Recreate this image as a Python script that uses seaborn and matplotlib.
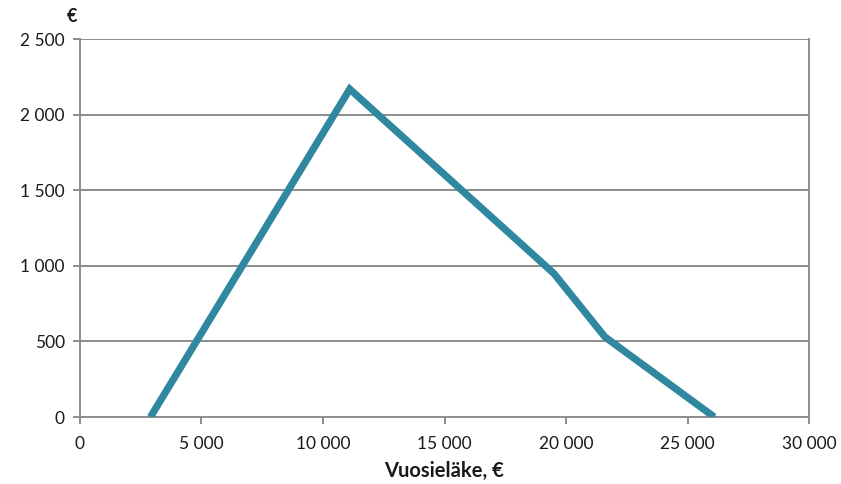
import matplotlib
matplotlib.use("Agg")
import matplotlib.pyplot as plt
import matplotlib.ticker as mticker
import seaborn as sns
import pandas as pd

# Annual pension (€) and the corresponding amount (€)
pension = [2900, 11100, 19500, 21600, 26100]
amount = [0, 2170, 950, 530, 0]

x_ticks = [0, 5000, 10000, 15000, 20000, 25000, 30000]
y_ticks = [0, 500, 1000, 1500, 2000, 2500]

sns.set_theme(style="white")
plt.rcParams["font.family"] = ["Lato", "DejaVu Sans"]

df = pd.DataFrame({"pension": pension, "amount": amount})

fig = plt.figure(figsize=(8.41, 4.84), dpi=100)
ax = fig.add_axes([0.0951, 0.1384, 0.962 - 0.0951, 0.919 - 0.1384])

grey = "#8c8c8c"
for y in y_ticks[1:]:
    ax.axhline(y, color=grey, lw=1.4, zorder=1)

sns.lineplot(data=df, x="pension", y="amount", ax=ax, color="#2f87a0",
             lw=5.2, solid_joinstyle="miter", solid_capstyle="butt",
             zorder=3, sort=False)

ax.set_xlim(0, 30000)
ax.set_ylim(0, 2500)
ax.set_xticks(x_ticks)
ax.set_yticks(y_ticks)

fmt = mticker.FuncFormatter(lambda v, p: f"{int(v):,}".replace(",", " "))
ax.xaxis.set_major_formatter(fmt)
ax.yaxis.set_major_formatter(fmt)

for side in ["left", "bottom", "right"]:
    ax.spines[side].set_color(grey)
    ax.spines[side].set_linewidth(1.4)
ax.spines["top"].set_visible(False)

ax.tick_params(axis="both", which="major", length=5, width=1.4, color=grey,
               labelsize=12.5, labelcolor="#1a1a1a", direction="out")
ax.tick_params(axis="x", pad=9)
ax.tick_params(axis="y", pad=6)
ax.xaxis.set_ticks_position("bottom")
ax.yaxis.set_ticks_position("left")

ax.set_xlabel("Vuosieläke, €", fontsize=14.5, fontweight="bold", color="#1a1a1a",
              labelpad=6)
ax.set_ylabel("")
fig.text(72 / 841, 1 - 16 / 484, "€", fontsize=13, fontweight="bold",
         color="#1a1a1a", ha="center", va="center")

fig.savefig("out.png", dpi=100)
